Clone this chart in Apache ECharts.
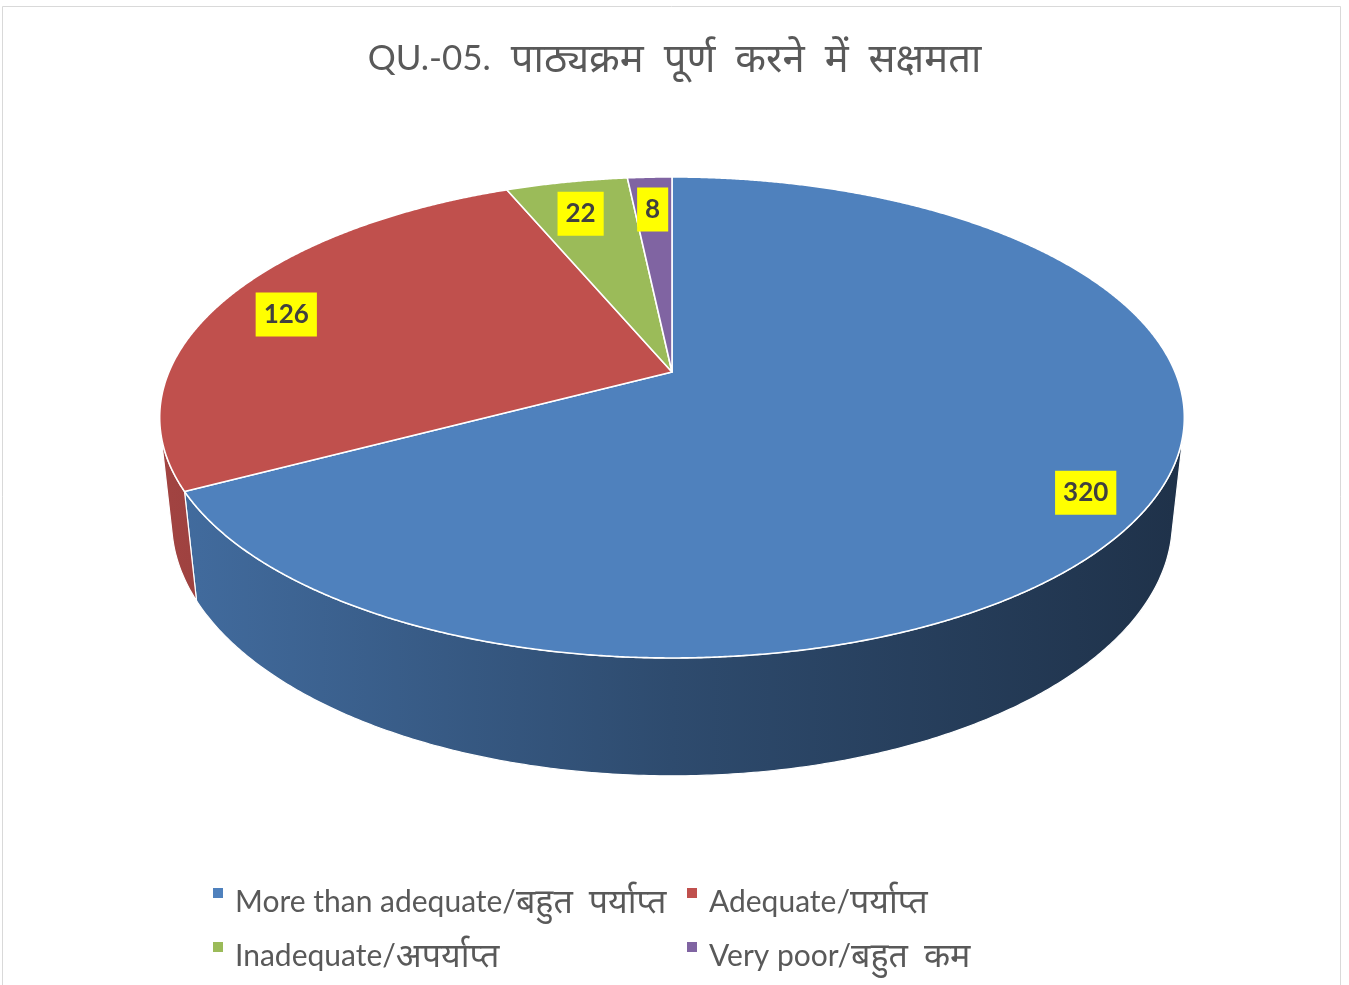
<!DOCTYPE html>
<html>
<head>
<meta charset="utf-8">
<script src="https://cdn.jsdelivr.net/npm/echarts@6/dist/echarts.min.js"></script>
<style>
  html, body { margin: 0; padding: 0; background: #ffffff; }
  #chart { width: 1349px; height: 985px; }
</style>
</head>
<body>
<div id="chart"></div>
<script>
// ---- chart data ----
const titleText = 'QU.-05. पाठ्यक्रम पूर्ण करने में सक्षमता';
const categories = [
  'More than adequate/बहुत पर्याप्त',
  'Adequate/पर्याप्त',
  'Inadequate/अपर्याप्त',
  'Very poor/बहुत कम'
];
const values = [320, 126, 22, 8];
const colors = ['#4f81bd', '#c0504d', '#9bbb59', '#8064a2'];

// ---- 3D pie view (pinhole camera looking down on a flat cylinder of radius 1) ----
const VIEW = {
  cx: 672,            // screen position of the pie centre
  cy: 372,
  focal: 2362,        // focal length in px
  dist: 4.695,        // camera distance (in pie radii)
  tilt: 27.45 * Math.PI / 180,
  depth: 0.235,       // cylinder height (in pie radii)
  labelPull: 0.866    // labels sit this far from the ellipse centre towards the rim
};
const FONT = 'Lato, "Noto Sans", "Noto Sans Devanagari", "Lohit Devanagari", sans-serif';
const TEXT_GREY = '#595959';

function project(X, Y, Z) {
  const s = Math.sin(VIEW.tilt), c = Math.cos(VIEW.tilt);
  const d = VIEW.dist - Y * s - Z * c;
  return [VIEW.cx + VIEW.focal * X / d, VIEW.cy + VIEW.focal * (Z * s - Y * c) / d];
}
// angle measured clockwise from 12 o'clock, seen from above
function rim(phi, r, Y) {
  return project(r * Math.sin(phi), Y, -r * Math.cos(phi));
}
function shade(hex, k) {
  const n = parseInt(hex.slice(1), 16);
  const r = Math.round(((n >> 16) & 255) * k);
  const g = Math.round(((n >> 8) & 255) * k);
  const b = Math.round((n & 255) * k);
  return 'rgb(' + r + ',' + g + ',' + b + ')';
}
// Devanagari runs get their own rich style; spaces before them get a wider gap
function richText(str) {
  return str
    .replace(/[\u0900-\u097F]+/g, m => '{dv|' + m + '}')
    .replace(/ \{dv\|/g, '{gap| }{dv|');
}

const total = values.reduce((a, b) => a + b, 0);
// centre of the projected top ellipse (used for label placement)
const ellipseMid = [VIEW.cx, (project(0, 0, -1)[1] + project(0, 0, 1)[1]) / 2];

function renderSlice(params, api) {
  const i = params.seriesIndex;
  let before = 0;
  for (let k = 0; k < i; k++) before += values[k];
  const v = api.value(0);
  const a0 = before / total * Math.PI * 2;
  const a1 = (before + v) / total * Math.PI * 2;
  const children = [];

  // outer wall: only the part facing the camera
  const zLimit = 1 / (VIEW.dist * Math.cos(VIEW.tilt));
  const vis0 = Math.acos(-zLimit), vis1 = Math.PI * 2 - vis0;
  const w0 = Math.max(a0, vis0), w1 = Math.min(a1, vis1);
  if (w1 > w0) {
    const pts = [];
    const n = Math.max(2, Math.ceil((w1 - w0) / (Math.PI / 360)));
    for (let s = 0; s <= n; s++) pts.push(rim(w0 + (w1 - w0) * s / n, 1, 0));
    for (let s = n; s >= 0; s--) pts.push(rim(w0 + (w1 - w0) * s / n, 1, -VIEW.depth));
    const left = project(-1, 0, 0)[0], right = project(1, 0, 0)[0];
    children.push({
      type: 'polygon',
      z2: 1,
      shape: { points: pts },
      style: {
        fill: {
          type: 'linear', global: true, x: left, y: 0, x2: right, y2: 0,
          colorStops: [
            { offset: 0, color: shade(colors[i], 0.84) },
            { offset: 0.5, color: shade(colors[i], 0.58) },
            { offset: 1, color: shade(colors[i], 0.39) }
          ]
        },
        stroke: '#ffffff',
        lineWidth: 1.2
      }
    });
  }

  // top face
  const top = [project(0, 0, 0)];
  const m = Math.max(2, Math.ceil((a1 - a0) / (Math.PI / 720)));
  for (let s = 0; s <= m; s++) top.push(rim(a0 + (a1 - a0) * s / m, 1, 0));
  children.push({
    type: 'polygon',
    z2: 2,
    shape: { points: top },
    style: { fill: colors[i], stroke: '#ffffff', lineWidth: 1.6, lineJoin: 'round' }
  });

  // value label
  const edge = rim((a0 + a1) / 2, 1, 0);
  const lx = ellipseMid[0] + VIEW.labelPull * (edge[0] - ellipseMid[0]);
  const ly = ellipseMid[1] + VIEW.labelPull * (edge[1] - ellipseMid[1]);
  children.push({
    type: 'text',
    z2: 10,
    x: lx,
    y: ly,
    style: {
      text: String(v),
      align: 'center',
      verticalAlign: 'middle',
      fontSize: 26,
      fontWeight: 'bold',
      fontFamily: FONT,
      fill: '#404040',
      lineHeight: 32,
      backgroundColor: '#ffff00',
      padding: [6, 8]
    }
  });

  return { type: 'group', children: children };
}

const legendLeft = [213, 687, 213, 687];
const legendTop = [866, 866, 920, 920];

const option = {
  backgroundColor: '#ffffff',
  animation: false,
  title: {
    text: richText(titleText),
    left: 'center',
    top: 37,
    padding: 0,
    textStyle: {
      fontSize: 35, fontWeight: 'normal', color: TEXT_GREY, fontFamily: FONT, lineHeight: 44,
      rich: {
        dv: { fontSize: 40, color: TEXT_GREY, fontFamily: FONT, lineHeight: 44 },
        gap: { width: 20, fontSize: 35, lineHeight: 44 }
      }
    }
  },
  legend: categories.map((name, i) => ({
    data: [name],
    left: legendLeft[i],
    top: legendTop[i],
    padding: 0,
    icon: 'rect',
    itemWidth: 10,
    itemHeight: 10,
    selectedMode: false,
    formatter: n => richText(n),
    textStyle: {
      fontSize: 30, color: TEXT_GREY, fontFamily: FONT, lineHeight: 36, padding: [18, 0, 0, 7],
      rich: {
        dv: { fontSize: 34, color: TEXT_GREY, fontFamily: FONT, lineHeight: 36 },
        gap: { width: 16, fontSize: 30, lineHeight: 36 }
      }
    }
  })),
  graphic: [{
    type: 'rect',
    silent: true,
    shape: { x: 2.5, y: 6.5, width: 1338, height: 1000 },
    style: { fill: 'none', stroke: '#d9d9d9', lineWidth: 1 }
  }],
  series: categories.map((name, i) => ({
    type: 'custom',
    name: name,
    coordinateSystem: 'none',
    itemStyle: { color: colors[i] },
    data: [[values[i]]],
    renderItem: renderSlice
  }))
};

const chart = echarts.init(document.getElementById('chart'), null, { renderer: 'canvas' });
chart.setOption(option);
</script>
</body>
</html>
